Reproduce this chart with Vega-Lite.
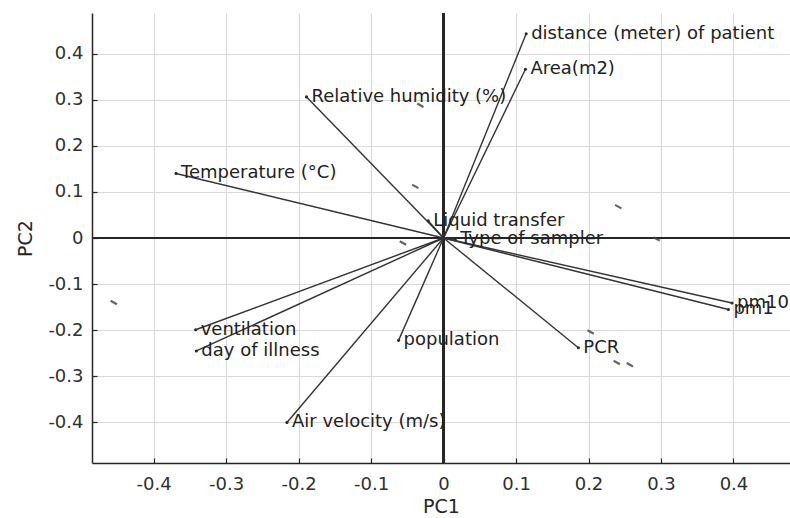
{
  "$schema": "https://vega.github.io/schema/vega-lite/v6.json",
  "width": 698,
  "height": 450,
  "autosize": {"type": "none"},
  "padding": {"left": 92, "top": 13, "right": 0, "bottom": 55},
  "background": "white",
  "config": {
    "view": {"stroke": null},
    "axis": {
      "domainColor": "#262626",
      "domainWidth": 1.5,
      "gridColor": "#dadada",
      "gridWidth": 1.2,
      "tickColor": "#262626",
      "tickSize": -5,
      "tickWidth": 1.2,
      "labelFont": "DejaVu Sans",
      "labelFontSize": 18,
      "labelColor": "#303030",
      "titleFont": "DejaVu Sans",
      "titleFontSize": 19,
      "titleFontWeight": "normal",
      "titleColor": "#262626"
    }
  },
  "datasets": {
    "vectors": [
      {"name": "distance (meter) of patient", "pc1": 0.114, "pc2": 0.443},
      {"name": "Area(m2)", "pc1": 0.113, "pc2": 0.366},
      {"name": "Relative humidity (%)", "pc1": -0.189, "pc2": 0.306},
      {"name": "Temperature (°C)", "pc1": -0.369, "pc2": 0.140},
      {"name": "Liquid transfer", "pc1": -0.021, "pc2": 0.037},
      {"name": "Type of sampler", "pc1": 0.016, "pc2": -0.003},
      {"name": "pm10", "pc1": 0.398, "pc2": -0.141},
      {"name": "pm1", "pc1": 0.393, "pc2": -0.155},
      {"name": "PCR", "pc1": 0.186, "pc2": -0.238},
      {"name": "population", "pc1": -0.062, "pc2": -0.222},
      {"name": "ventilation", "pc1": -0.342, "pc2": -0.199},
      {"name": "day of illness", "pc1": -0.341, "pc2": -0.245},
      {"name": "Air velocity (m/s)", "pc1": -0.216, "pc2": -0.400}
    ],
    "scores": [
      {"pc1": -0.455, "pc2": -0.140},
      {"pc1": -0.032, "pc2": 0.288},
      {"pc1": -0.039, "pc2": 0.112},
      {"pc1": 0.241, "pc2": 0.068},
      {"pc1": 0.294, "pc2": -0.002},
      {"pc1": -0.056, "pc2": -0.011},
      {"pc1": 0.203, "pc2": -0.204},
      {"pc1": 0.239, "pc2": -0.270},
      {"pc1": 0.257, "pc2": -0.275}
    ]
  },
  "data": {"name": "vectors"},
  "layer": [
    {
      "mark": {"type": "point", "filled": true, "color": "#262626", "size": 10, "opacity": 1},
      "encoding": {
        "x": {"field": "pc1", "type": "quantitative",
              "scale": {"domain": [-0.485, 0.478], "nice": false, "zero": false},
              "axis": {"values": [-0.4, -0.3, -0.2, -0.1, 0, 0.1, 0.2, 0.3, 0.4],
                       "labelExpr": "abs(datum.value) < 1e-9 ? '0' : (datum.value < 0 ? '-' : '') + format(abs(datum.value), '.1f')",
                       "labelPadding": 17, "titlePadding": 4, "title": "PC1"}},
        "y": {"field": "pc2", "type": "quantitative",
              "scale": {"domain": [-0.488, 0.488], "nice": false, "zero": false},
              "axis": {"values": [-0.4, -0.3, -0.2, -0.1, 0, 0.1, 0.2, 0.3, 0.4],
                       "labelExpr": "abs(datum.value) < 1e-9 ? '0' : (datum.value < 0 ? '-' : '') + format(abs(datum.value), '.1f')",
                       "labelPadding": 14, "titlePadding": 12, "title": "PC2"}}
      }
    },
    {
      "mark": {"type": "rule", "color": "#262626", "strokeWidth": 1.7},
      "encoding": {"x": {"datum": 0, "type": "quantitative"}}
    },
    {
      "mark": {"type": "rule", "color": "#262626", "strokeWidth": 1.7},
      "encoding": {"y": {"datum": 0, "type": "quantitative"}}
    },
    {
      "mark": {"type": "rule", "color": "#333333", "strokeWidth": 1.4},
      "encoding": {
        "x": {"field": "pc1", "type": "quantitative"},
        "y": {"field": "pc2", "type": "quantitative"},
        "x2": {"datum": 0},
        "y2": {"datum": 0}
      }
    },
    {
      "mark": {"type": "text", "align": "left", "baseline": "middle", "dx": 5, "font": "DejaVu Sans", "fontSize": 18, "color": "#222222"},
      "encoding": {
        "x": {"field": "pc1", "type": "quantitative"},
        "y": {"field": "pc2", "type": "quantitative"},
        "text": {"field": "name"}
      }
    },
    {
      "data": {"name": "scores"},
      "mark": {"type": "point", "shape": "M -1 -0.55 L 1 0.55", "filled": false, "color": "#4a4a4a", "strokeWidth": 2.2, "size": 40, "opacity": 0.85},
      "encoding": {
        "x": {"field": "pc1", "type": "quantitative"},
        "y": {"field": "pc2", "type": "quantitative"}
      }
    }
  ]
}
